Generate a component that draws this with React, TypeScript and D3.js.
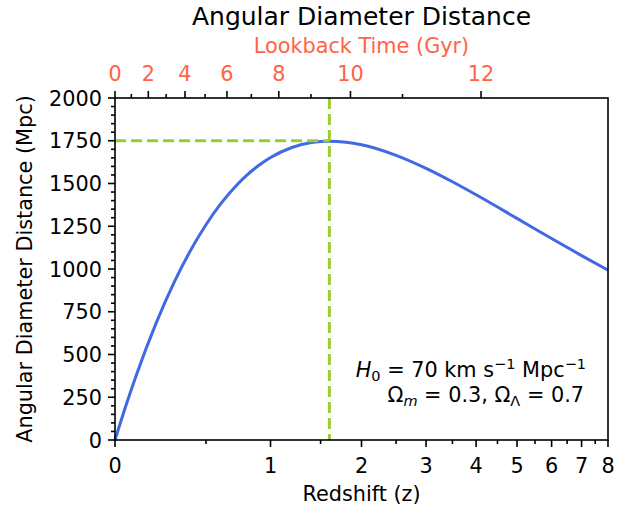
import React from "react";
import * as d3 from "d3";

// Redshift samples and angular diameter distance (Mpc), flat LCDM H0=70, Om=0.3
const redshift = [0, 0.05, 0.1, 0.2, 0.3, 0.4, 0.5, 0.6, 0.7, 0.8, 0.9, 1.0, 1.2, 1.4, 1.6, 1.8, 2.0, 2.5, 3, 3.5, 4, 5, 6, 7, 8];
const distanceMpc = [0, 201.6, 380.4, 680.6, 918.8, 1108.2, 1259.1, 1379.0, 1473.9, 1548.7, 1607.0, 1651.9, 1710.6, 1739.3, 1747.5, 1741.8, 1726.6, 1665.0, 1588.9, 1510.3, 1434.1, 1295.9, 1178.1, 1078.5, 993.7];

const zMajorTicks = [0, 1, 2, 3, 4, 5, 6, 7, 8];
const zMinorTicks = [0.5, 1.5, 2.5, 3.5, 4.5, 5.5, 6.5, 7.5];
const yMajorTicks = [0, 250, 500, 750, 1000, 1250, 1500, 1750, 2000];
const yMinorTicks = d3.range(0, 2001, 50).filter((v) => v % 250 !== 0);

const lookbackLabels = [0, 2, 4, 6, 8, 10, 12];
const lookbackMajorZ = [0, 0.16, 0.366, 0.647, 1.075, 1.856, 4.111];
const lookbackMinorZ = [0.0755, 0.256, 0.494, 0.836, 1.395, 2.602];

const peakZ = 1.6;
const peakDistance = 1750;

const FONT = "'DejaVu Sans', sans-serif";
const FS = 20.8;

export default function App() {
  const W = 633, H = 509;
  const left = 115, right = 608, top = 98, bottom = 440;
  const x = d3.scaleLog().domain([1, 9]).range([left, right]);
  const xz = (z: number) => x(1 + z);
  const y = d3.scaleLinear().domain([0, 2000]).range([bottom, top]);

  const pts: [number, number][] = redshift.map((z, i) => [xz(z), y(distanceMpc[i])]);
  const path = d3.line().curve(d3.curveMonotoneX)(pts) || "";

  const major = 7, minor = 4, tw = 1.6;
  const tomato = "#FF6347";

  return (
    <svg width={W} height={H} style={{ position: "absolute", left: 0, top: 0 }} fontFamily={FONT}>
      <rect width={W} height={H} fill="white" />
      {/* curve */}
      <path d={path} fill="none" stroke="#4169E1" strokeWidth={3} />
      {/* peak lines */}
      <line x1={left} x2={xz(peakZ)} y1={y(peakDistance)} y2={y(peakDistance)} stroke="#9ACD32" strokeWidth={3} strokeDasharray="11 5" />
      <line x1={xz(peakZ)} x2={xz(peakZ)} y1={top} y2={bottom} stroke="#9ACD32" strokeWidth={3} strokeDasharray="11 5" />
      {/* frame */}
      <rect x={left} y={top} width={right - left} height={bottom - top} fill="none" stroke="black" strokeWidth={1.6} />
      {/* bottom axis */}
      {zMajorTicks.map((z) => (
        <g key={"zM" + z}>
          <line x1={xz(z)} x2={xz(z)} y1={bottom} y2={bottom + major} stroke="black" strokeWidth={tw} />
          <text x={xz(z)} y={bottom + 33} fontSize={FS} textAnchor="middle">{z}</text>
        </g>
      ))}
      {zMinorTicks.map((z) => (
        <line key={"zm" + z} x1={xz(z)} x2={xz(z)} y1={bottom} y2={bottom + minor} stroke="black" strokeWidth={tw} />
      ))}
      <text x={(left + right) / 2} y={501} fontSize={FS} textAnchor="middle">Redshift (z)</text>
      {/* left axis */}
      {yMajorTicks.map((v) => (
        <g key={"yM" + v}>
          <line x1={left - major} x2={left} y1={y(v)} y2={y(v)} stroke="black" strokeWidth={tw} />
          <text x={left - 13} y={y(v) + 7.5} fontSize={FS} textAnchor="end">{v}</text>
        </g>
      ))}
      {yMinorTicks.map((v) => (
        <line key={"ym" + v} x1={left - minor} x2={left} y1={y(v)} y2={y(v)} stroke="black" strokeWidth={tw} />
      ))}
      <text transform={`translate(32,${(top + bottom) / 2}) rotate(-90)`} fontSize={FS} textAnchor="middle">Angular Diameter Distance (Mpc)</text>
      {/* top axis */}
      {lookbackMajorZ.map((z, i) => (
        <g key={"tM" + i}>
          <line x1={xz(z)} x2={xz(z)} y1={top} y2={top - major} stroke="black" strokeWidth={tw} />
          <text x={xz(z)} y={top - 17} fontSize={FS} textAnchor="middle" fill={tomato}>{lookbackLabels[i]}</text>
        </g>
      ))}
      {lookbackMinorZ.map((z, i) => (
        <line key={"tm" + i} x1={xz(z)} x2={xz(z)} y1={top} y2={top - minor} stroke="black" strokeWidth={tw} />
      ))}
      <text x={(left + right) / 2} y={53} fontSize={FS} textAnchor="middle" fill={tomato}>Lookback Time (Gyr)</text>
      <text x={(left + right) / 2} y={25} fontSize={25} textAnchor="middle">Angular Diameter Distance</text>
      {/* annotation */}
      <text x={586} y={377} fontSize={FS} textAnchor="end">
        <tspan fontStyle="italic">H</tspan>
        <tspan fontSize={14.5} dy={4}>0</tspan>
        <tspan dy={-4}>{" = 70 km s"}</tspan>
        <tspan fontSize={14.5} dy={-8}>{"\u22121"}</tspan>
        <tspan dy={8}>{" Mpc"}</tspan>
        <tspan fontSize={14.5} dy={-8}>{"\u22121"}</tspan>
      </text>
      <text x={584} y={402} fontSize={FS} textAnchor="end">
        <tspan>{"\u03A9"}</tspan>
        <tspan fontSize={14.5} fontStyle="italic" dy={4}>m</tspan>
        <tspan dy={-4}>{" = 0.3, \u03A9"}</tspan>
        <tspan fontSize={14.5} dy={4}>{"\u039B"}</tspan>
        <tspan dy={-4}>{" = 0.7"}</tspan>
      </text>
    </svg>
  );
}
